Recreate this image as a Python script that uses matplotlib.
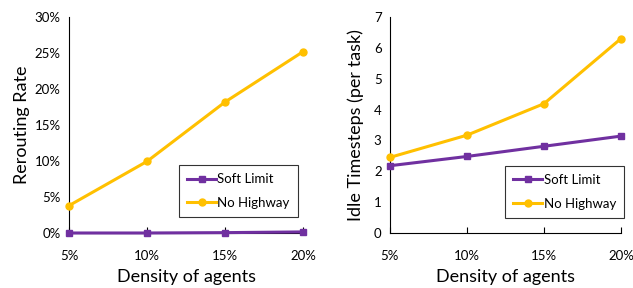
import matplotlib.pyplot as plt

plt.rcParams['font.family'] = ['Lato', 'DejaVu Sans']

density = ["5%", "10%", "15%", "20%"]

# left panel: rerouting rate (%)
reroute_soft = [0.0, 0.0, 0.05, 0.15]
reroute_nohw = [3.8, 9.95, 18.2, 25.2]

# right panel: idle timesteps per task
idle_soft = [2.18, 2.48, 2.81, 3.14]
idle_nohw = [2.45, 3.17, 4.19, 6.30]

PURPLE = "#7030A0"
GOLD = "#FFC000"

fig = plt.figure(figsize=(6.33, 2.88), dpi=100)
ax1 = fig.add_axes([0.109, 0.191, 0.370, 0.750])
ax2 = fig.add_axes([0.616, 0.191, 0.365, 0.750])

x = list(range(len(density)))


def style(ax):
    ax.spines['top'].set_visible(False)
    ax.spines['right'].set_visible(False)
    ax.spines['left'].set_linewidth(0.8)
    ax.spines['bottom'].set_linewidth(0.8)
    ax.set_xlim(0, 3)
    ax.set_xticks(x)
    ax.set_xticklabels(density, fontsize=9.5)
    ax.tick_params(axis='x', direction='in', length=4, width=0.8, pad=12)
    ax.tick_params(axis='y', length=0, labelsize=9.5, pad=6)
    ax.set_xlabel("Density of agents", fontsize=13, labelpad=5)


for ax, soft, nohw in [(ax1, reroute_soft, reroute_nohw), (ax2, idle_soft, idle_nohw)]:
    ax.plot(x, soft, color=PURPLE, lw=2.2, marker="s", ms=5, label="Soft Limit", clip_on=False, zorder=3)
    ax.plot(x, nohw, color=GOLD, lw=2.2, marker="o", ms=5, label="No Highway", clip_on=False, zorder=3)
    style(ax)

ax1.set_ylim(0, 30)
ax1.set_yticks([0, 5, 10, 15, 20, 25, 30])
ax1.set_yticklabels([f"{v}%" for v in range(0, 31, 5)])
ax1.set_ylabel("Rerouting Rate", fontsize=13, labelpad=3)

ax2.set_ylim(0, 7)
ax2.set_yticks(range(8))
ax2.set_ylabel("Idle Timesteps (per task)", fontsize=13, labelpad=7)

for ax, anchor in [(ax1, (0.47, 0.074)), (ax2, (0.50, 0.07))]:
    leg = ax.legend(loc="lower left", bbox_to_anchor=anchor, fontsize=9.5, frameon=True,
                    fancybox=False, edgecolor="black", handlelength=2.2, handletextpad=0.1,
                    borderpad=0.6, labelspacing=0.9, borderaxespad=0)
    leg.get_frame().set_linewidth(0.8)

fig.savefig("out.png", dpi=100)
